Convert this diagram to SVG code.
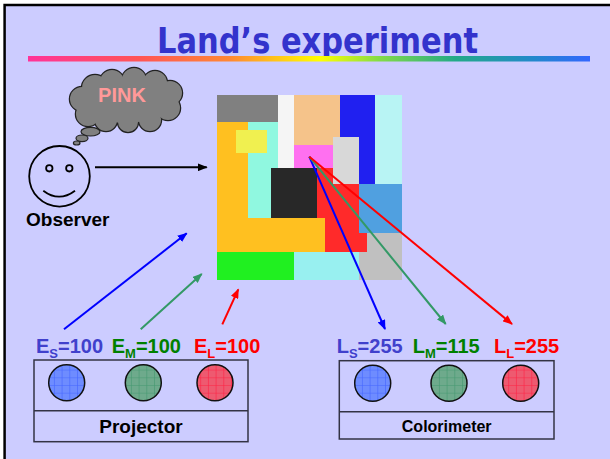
<svg xmlns="http://www.w3.org/2000/svg" width="610" height="459" viewBox="0 0 610 459">
  <defs>
    <style>
      .lbl { font-family: "Liberation Sans", Arial, sans-serif; font-weight: bold; }
      .sub { font-size: 13px; }
      .box { fill: none; stroke: #333344; stroke-width: 1.5; }
      .lamp { stroke: #111; stroke-width: 1.5; }
      .cloud-o { fill: #808080; stroke: #222; stroke-width: 2.5; }
      .cloud-f { fill: #808080; }
    </style>
    <linearGradient id="rainbow" x1="0" y1="0" x2="1" y2="0">
      <stop offset="0" stop-color="#ff3399"/>
      <stop offset="0.2" stop-color="#ff5555"/>
      <stop offset="0.36" stop-color="#ff8833"/>
      <stop offset="0.52" stop-color="#ffff00"/>
      <stop offset="0.62" stop-color="#88dd44"/>
      <stop offset="0.76" stop-color="#22aa88"/>
      <stop offset="0.9" stop-color="#2288cc"/>
      <stop offset="1" stop-color="#3366ff"/>
    </linearGradient>
    <pattern id="gridB" width="7.7" height="7.7" patternUnits="userSpaceOnUse">
      <rect width="7.7" height="7.7" fill="#6e8cff"/>
      <path d="M0,0 H7.7 M0,0 V7.7" stroke="#4466ff" stroke-width="1.2"/>
    </pattern>
    <pattern id="gridG" width="7.7" height="7.7" patternUnits="userSpaceOnUse">
      <rect width="7.7" height="7.7" fill="#6eaa8c"/>
      <path d="M0,0 H7.7 M0,0 V7.7" stroke="#449970" stroke-width="1.2"/>
    </pattern>
    <pattern id="gridR" width="7.7" height="7.7" patternUnits="userSpaceOnUse">
      <rect width="7.7" height="7.7" fill="#ee5a70"/>
      <path d="M0,0 H7.7 M0,0 V7.7" stroke="#ff2244" stroke-width="1.2"/>
    </pattern>
    <marker id="ahK" viewBox="0 0 10 8" refX="9" refY="4" markerWidth="10" markerHeight="8" markerUnits="userSpaceOnUse" orient="auto">
      <path d="M0,0 L10,4 L0,8 z" fill="#000"/>
    </marker>
    <marker id="ahB" viewBox="0 0 10 8" refX="9" refY="4" markerWidth="10" markerHeight="8" markerUnits="userSpaceOnUse" orient="auto">
      <path d="M0,0 L10,4 L0,8 z" fill="#0000ff"/>
    </marker>
    <marker id="ahG" viewBox="0 0 10 8" refX="9" refY="4" markerWidth="10" markerHeight="8" markerUnits="userSpaceOnUse" orient="auto">
      <path d="M0,0 L10,4 L0,8 z" fill="#339966"/>
    </marker>
    <marker id="ahR" viewBox="0 0 10 8" refX="9" refY="4" markerWidth="10" markerHeight="8" markerUnits="userSpaceOnUse" orient="auto">
      <path d="M0,0 L10,4 L0,8 z" fill="#ff0000"/>
    </marker>
  </defs>

  <!-- slide background and frame -->
  <rect width="610" height="459" fill="#ffffff"/>
  <rect x="4.6" y="5" width="620" height="470" fill="#ccccff" stroke="#000" stroke-width="2.5"/>

  <!-- title -->
  <g id="title">
    <text x="317.5" y="53" text-anchor="middle" textLength="321" lengthAdjust="spacingAndGlyphs"
          font-family="'DejaVu Sans Condensed', 'DejaVu Sans', sans-serif" font-weight="bold" font-size="36" fill="#3333cc">Land’s experiment</text>
    <rect x="28" y="56" width="562" height="5.5" fill="url(#rainbow)"/>
  </g>

  <!-- thought cloud -->
  <g id="cloud">
    <g class="cloud-o">
      <circle cx="95" cy="88" r="13"/>
      <circle cx="112" cy="82" r="12"/>
      <circle cx="134" cy="80" r="12"/>
      <circle cx="155" cy="83" r="12"/>
      <circle cx="170" cy="93" r="12"/>
      <circle cx="168" cy="108" r="12"/>
      <circle cx="150" cy="120" r="11"/>
      <circle cx="128" cy="122" r="10"/>
      <circle cx="106" cy="120" r="11"/>
      <circle cx="88" cy="114" r="12"/>
      <circle cx="82" cy="99" r="12"/>
    </g>
    <g class="cloud-f">
      <circle cx="95" cy="88" r="13"/>
      <circle cx="112" cy="82" r="12"/>
      <circle cx="134" cy="80" r="12"/>
      <circle cx="155" cy="83" r="12"/>
      <circle cx="170" cy="93" r="12"/>
      <circle cx="168" cy="108" r="12"/>
      <circle cx="150" cy="120" r="11"/>
      <circle cx="128" cy="122" r="10"/>
      <circle cx="106" cy="120" r="11"/>
      <circle cx="88" cy="114" r="12"/>
      <circle cx="82" cy="99" r="12"/>
      <ellipse cx="126" cy="101" rx="44" ry="22"/>
    </g>
    <ellipse cx="90.5" cy="131.7" rx="9.5" ry="4.3" fill="#808080" stroke="#222" stroke-width="1.2"/>
    <ellipse cx="82" cy="138.3" rx="6" ry="3.3" fill="#808080" stroke="#222" stroke-width="1.2"/>
    <ellipse cx="76.7" cy="143" rx="3.3" ry="2" fill="#808080" stroke="#222" stroke-width="1.2"/>
    <text class="lbl" x="122" y="102" text-anchor="middle" font-size="20" fill="#ff9999">PINK</text>
  </g>

  <!-- observer -->
  <g id="observer" fill="none" stroke="#000" stroke-width="1.8">
    <circle cx="59.5" cy="176.3" r="30.3"/>
    <circle cx="49.3" cy="168.3" r="3.2"/>
    <circle cx="69.3" cy="168.3" r="3.2"/>
    <path d="M43.3,190.7 Q59,202.7 75,190.7"/>
    <text class="lbl" x="26" y="226" font-size="19" fill="#000" stroke="none">Observer</text>
  </g>

  <!-- Mondrian -->
  <g id="mondrian">
    <rect x="217" y="95" width="185" height="185" fill="#ffc020"/>
    <rect x="217" y="95" width="61" height="27" fill="#808080"/>
    <rect x="248" y="122" width="46" height="96" fill="#90f8e0"/>
    <rect x="278" y="95" width="16" height="73" fill="#f5f5f5"/>
    <rect x="294" y="95" width="46" height="50" fill="#f5c38a"/>
    <rect x="340" y="95" width="35" height="89" fill="#2020f0"/>
    <rect x="375" y="95" width="27" height="89" fill="#b8f4f4"/>
    <rect x="236" y="130" width="31" height="23" fill="#f0f050"/>
    <rect x="294" y="145" width="39" height="23" fill="#ff70f0"/>
    <rect x="359" y="184" width="43" height="49" fill="#50a0e0"/>
    <rect x="359" y="233" width="43" height="47" fill="#c0c0c0"/>
    <path d="M317,168 H359 V233 H367 V252 H325 V233 H317 Z" fill="#ff2a2a"/>
    <rect x="333" y="137" width="26" height="47" fill="#d8d8d8"/>
    <rect x="271" y="168" width="46" height="50" fill="#282828"/>
    <rect x="217" y="218" width="108" height="34" fill="#ffc020"/>
    <rect x="217" y="252" width="77" height="28" fill="#20f020"/>
    <rect x="294" y="252" width="65" height="28" fill="#98f0f0"/>
  </g>

  <!-- projector -->
  <g id="projector">
    <rect class="box" x="34" y="360" width="214" height="81.7"/>
    <line class="box" x1="34" y1="410.7" x2="248" y2="410.7"/>
    <circle class="lamp" cx="66.7" cy="382.7" r="18" fill="url(#gridB)"/>
    <circle class="lamp" cx="143.3" cy="382.7" r="18" fill="url(#gridG)"/>
    <circle class="lamp" cx="215" cy="382.7" r="18" fill="url(#gridR)"/>
    <text class="lbl" x="141" y="433" text-anchor="middle" font-size="19" fill="#000">Projector</text>
    <text class="lbl" x="36" y="353.3" font-size="20" fill="#4040cc">E<tspan class="sub" dy="5">S</tspan><tspan dy="-5">=100</tspan></text>
    <text class="lbl" x="111.7" y="353.3" font-size="20" fill="#008000">E<tspan class="sub" dy="5">M</tspan><tspan dy="-5">=100</tspan></text>
    <text class="lbl" x="194" y="353.3" font-size="20" fill="#ff0000">E<tspan class="sub" dy="5">L</tspan><tspan dy="-5">=100</tspan></text>
  </g>

  <!-- colorimeter -->
  <g id="colorimeter">
    <rect class="box" x="339.3" y="360.7" width="214.7" height="78.3"/>
    <line class="box" x1="339.3" y1="411.7" x2="554" y2="411.7"/>
    <circle class="lamp" cx="372.7" cy="383.3" r="18" fill="url(#gridB)"/>
    <circle class="lamp" cx="449" cy="383.3" r="18" fill="url(#gridG)"/>
    <circle class="lamp" cx="520.7" cy="383.3" r="18" fill="url(#gridR)"/>
    <text class="lbl" x="446.7" y="432" text-anchor="middle" font-size="16" fill="#000">Colorimeter</text>
    <text class="lbl" x="336.7" y="353.3" font-size="20" fill="#4040cc">L<tspan class="sub" dy="5">S</tspan><tspan dy="-5">=255</tspan></text>
    <text class="lbl" x="412.7" y="353.3" font-size="20" fill="#008000">L<tspan class="sub" dy="5">M</tspan><tspan dy="-5">=115</tspan></text>
    <text class="lbl" x="494" y="353.3" font-size="20" fill="#ff0000">L<tspan class="sub" dy="5">L</tspan><tspan dy="-5">=255</tspan></text>
  </g>

  <!-- connectors -->
  <g id="connectors" fill="none" stroke-width="2">
    <line x1="95" y1="167.3" x2="206.7" y2="167.3" stroke="#000" marker-end="url(#ahK)"/>
    <line x1="64" y1="329.3" x2="186.7" y2="233.3" stroke="#0000ff" marker-end="url(#ahB)"/>
    <line x1="140.7" y1="329.3" x2="201.7" y2="274" stroke="#339966" marker-end="url(#ahG)"/>
    <line x1="222.3" y1="324.3" x2="238.3" y2="289.3" stroke="#ff0000" marker-end="url(#ahR)"/>
    <line x1="309.3" y1="156.7" x2="385" y2="329" stroke="#0000ff" marker-end="url(#ahB)"/>
    <line x1="309.3" y1="156.7" x2="445.7" y2="324" stroke="#339966" marker-end="url(#ahG)"/>
    <line x1="309.3" y1="156.7" x2="512" y2="324" stroke="#ff0000" marker-end="url(#ahR)"/>
  </g>
</svg>
